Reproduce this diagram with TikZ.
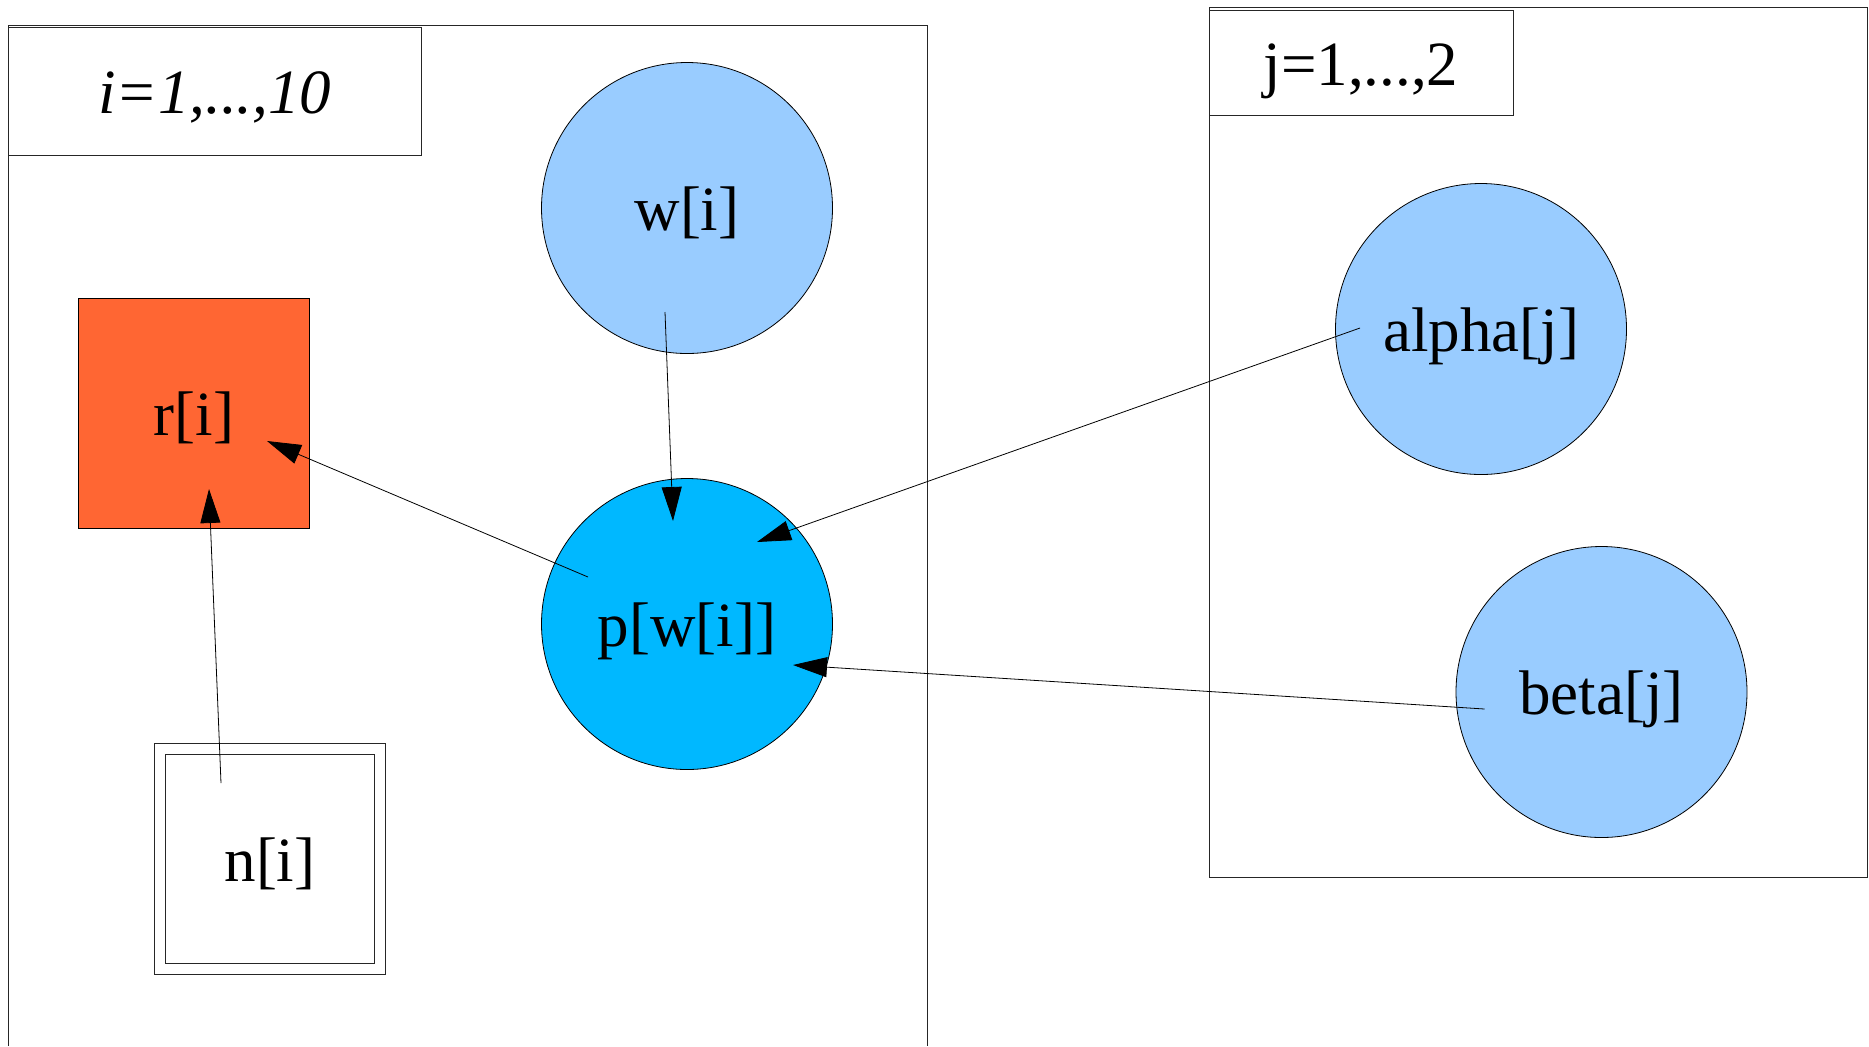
\documentclass[tikz,border=0pt]{standalone}
\usepackage{fontspec}
\setmainfont{Liberation Serif}
\usetikzlibrary{calc,arrows.meta}

\definecolor{paleblue}{RGB}{153,204,255}
\definecolor{skyblue}{RGB}{0,184,255}
\definecolor{brick}{RGB}{255,102,51}

\tikzset{
	every node/.style={font=\fontsize{31.5}{38}\selectfont, inner sep=0pt, outer sep=0pt, text height=23pt, text depth=1pt},
	plate/.style={draw=black!85, line width=0.5pt},
	tagbox/.style={draw=black!85, line width=0.5pt, fill=white},
	stoch/.style={circle, draw=black, line width=0.4pt, fill=paleblue, minimum size=145.5pt},
	link/.style={line width=0.4pt, -{Triangle[length=17pt,width=10pt]}}
}

\begin{document}
\begin{tikzpicture}[x=0.5pt, y=-0.5pt]
		%%%%% START %%%%%
		\useasboundingbox (0, 0) rectangle (1869, 1046);
		
		% plates
		\draw[plate] (8, 1046) -- (8, 25) -- (927, 25) -- (927, 1046);
		\draw[plate] (1209, 7) rectangle (1867, 877);
		\node[tagbox, minimum width=206.5pt, minimum height=64pt] (itag) at (214.7, 91.6) {\textit{i=1,...,10}};
		\node[tagbox, minimum width=152pt, minimum height=52.5pt] (jtag) at (1361, 63) {j=1,...,2};
		
		% nodes
		\node[stoch] (w) at (687, 208) {w[i]};
		\node[stoch, fill=skyblue] (p) at (687, 624) {p[w[i]]};
		\node[stoch] (alpha) at (1481, 329) {alpha[j]};
		\node[stoch] (beta) at (1601.5, 692) {beta[j]};
		\node[draw=black, line width=0.4pt, fill=brick, minimum width=115.5pt, minimum height=115pt] (r) at (194, 413) {r[i]};
		\node[draw=black!85, line width=0.4pt, double, double distance=5pt, minimum size=110pt] (n) at (270, 859) {n[i]};
		
		% ends of the links
		\coordinate (w-out) at ($(w)+(-22, 104)$);
		\coordinate (p-in-w) at ($(p)+(-14, -103)$);
		\coordinate (p-out) at ($(p)+(-99, -47)$);
		\coordinate (r-in-p) at ($(r)+(73, 28)$);
		\coordinate (n-out) at ($(n)+(-49, -76)$);
		\coordinate (r-in-n) at ($(r)+(15, 76)$);
		\coordinate (alpha-out) at ($(alpha)+(-121, -1)$);
		\coordinate (p-in-alpha) at ($(p)+(70, -82)$);
		\coordinate (beta-out) at ($(beta)+(-117, 17)$);
		\coordinate (p-in-beta) at ($(p)+(106, 41)$);
		
		% links
		\draw[link] (w-out) -- (p-in-w);
		\draw[link] (p-out) -- (r-in-p);
		\draw[link] (n-out) -- (r-in-n);
		\draw[link] (alpha-out) -- (p-in-alpha);
		\draw[link] (beta-out) -- (p-in-beta);
		%%%%% END %%%%%
\end{tikzpicture}
\end{document}
